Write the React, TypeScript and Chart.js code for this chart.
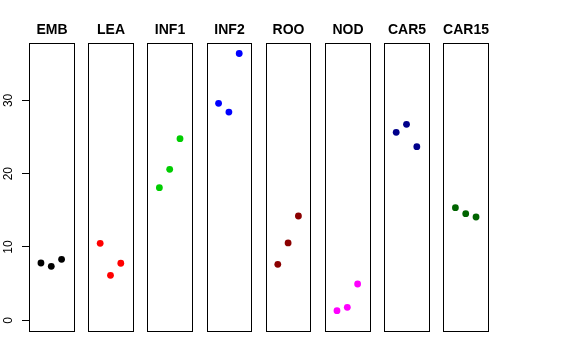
import React, { useEffect, useRef } from "react";
import { Chart, registerables } from "chart.js";

Chart.register(...registerables);

const categories = ["EMB", "LEA", "INF1", "INF2", "ROO", "NOD", "CAR5", "CAR15"];
const emb = [7.82, 7.36, 8.32];
const lea = [10.5, 6.14, 7.78];
const inf1 = [18.09, 20.6, 24.78];
const inf2 = [29.6, 28.4, 36.4];
const roo = [7.64, 10.55, 14.23];
const nod = [1.31, 1.77, 4.95];
const car5 = [25.65, 26.74, 23.68];
const car15 = [15.36, 14.54, 14.09];
const seriesValues = [emb, lea, inf1, inf2, roo, nod, car5, car15];
const colors = ["#000000", "#FF0000", "#00CD00", "#0000FF", "#8B0000", "#FF00FF", "#00008B", "#006400"];
const yTicks = [0, 10, 20, 30];

const PITCH = 5.74;
const XMIN = -0.16;
const XMAX = 4.16;
const YMIN = -1.46;
const YMAX = 37.83;

const panelPlugin = {
  id: "panels",
  beforeDatasetsDraw(chart: any) {
    const ctx = chart.ctx;
    const xs = chart.scales.x;
    const area = chart.chartArea;
    ctx.save();
    ctx.strokeStyle = "#000000";
    ctx.lineWidth = 1;
    ctx.fillStyle = "#000000";
    ctx.font = "bold 14px 'Liberation Sans', Arial, sans-serif";
    ctx.textAlign = "center";
    ctx.textBaseline = "alphabetic";
    categories.forEach((name, i) => {
      const l = Math.round(xs.getPixelForValue(i * PITCH + XMIN)) + 0.5;
      const r = Math.round(xs.getPixelForValue(i * PITCH + XMAX)) + 0.5;
      const t = Math.round(area.top) + 0.5;
      const b = Math.round(area.bottom) + 0.5;
      ctx.strokeRect(l, t, r - l, b - t);
      ctx.fillText(name, (l + r) / 2, 34);
    });
    ctx.restore();
  },
};

export default function App() {
  const ref = useRef<HTMLCanvasElement>(null);
  useEffect(() => {
    document.body.style.margin = "0";
    const datasets = seriesValues.map((vals, i) => ({
      label: categories[i],
      data: vals.map((v, j) => ({ x: i * PITCH + (j + 1), y: v })),
      backgroundColor: colors[i],
      borderColor: colors[i],
      borderWidth: 0,
      pointRadius: 3.4,
      pointHoverRadius: 3.4,
    }));
    const chart = new Chart(ref.current!, {
      type: "scatter",
      data: { datasets },
      options: {
        animation: false,
        responsive: false,
        events: [],
        layout: { padding: { left: 0, top: 43, right: 88, bottom: 29 } },
        plugins: { legend: { display: false }, title: { display: false }, tooltip: { enabled: false } },
        scales: {
          x: {
            type: "linear",
            display: false,
            min: XMIN,
            max: 7 * PITCH + XMAX,
          },
          y: {
            type: "linear",
            min: YMIN,
            max: YMAX,
            afterFit: (s: any) => {
              s.width = 29;
            },
            afterBuildTicks: (s: any) => {
              s.ticks = yTicks.map((v) => ({ value: v }));
            },
            border: { display: false },
            grid: {
              display: true,
              drawOnChartArea: false,
              drawTicks: true,
              tickLength: 7,
              color: "#000000",
              lineWidth: 1,
            },
            ticks: {
              minRotation: 90,
              maxRotation: 90,
              crossAlign: "center",
              padding: 7,
              color: "#000000",
              font: { family: "'Liberation Sans', Arial, sans-serif", size: 12 },
            },
          },
        },
      },
      plugins: [panelPlugin],
    });
    return () => chart.destroy();
  }, []);
  return (
    <div style={{ width: 576, height: 360, background: "#ffffff" }}>
      <canvas ref={ref} width={576} height={360} style={{ display: "block" }} />
    </div>
  );
}
